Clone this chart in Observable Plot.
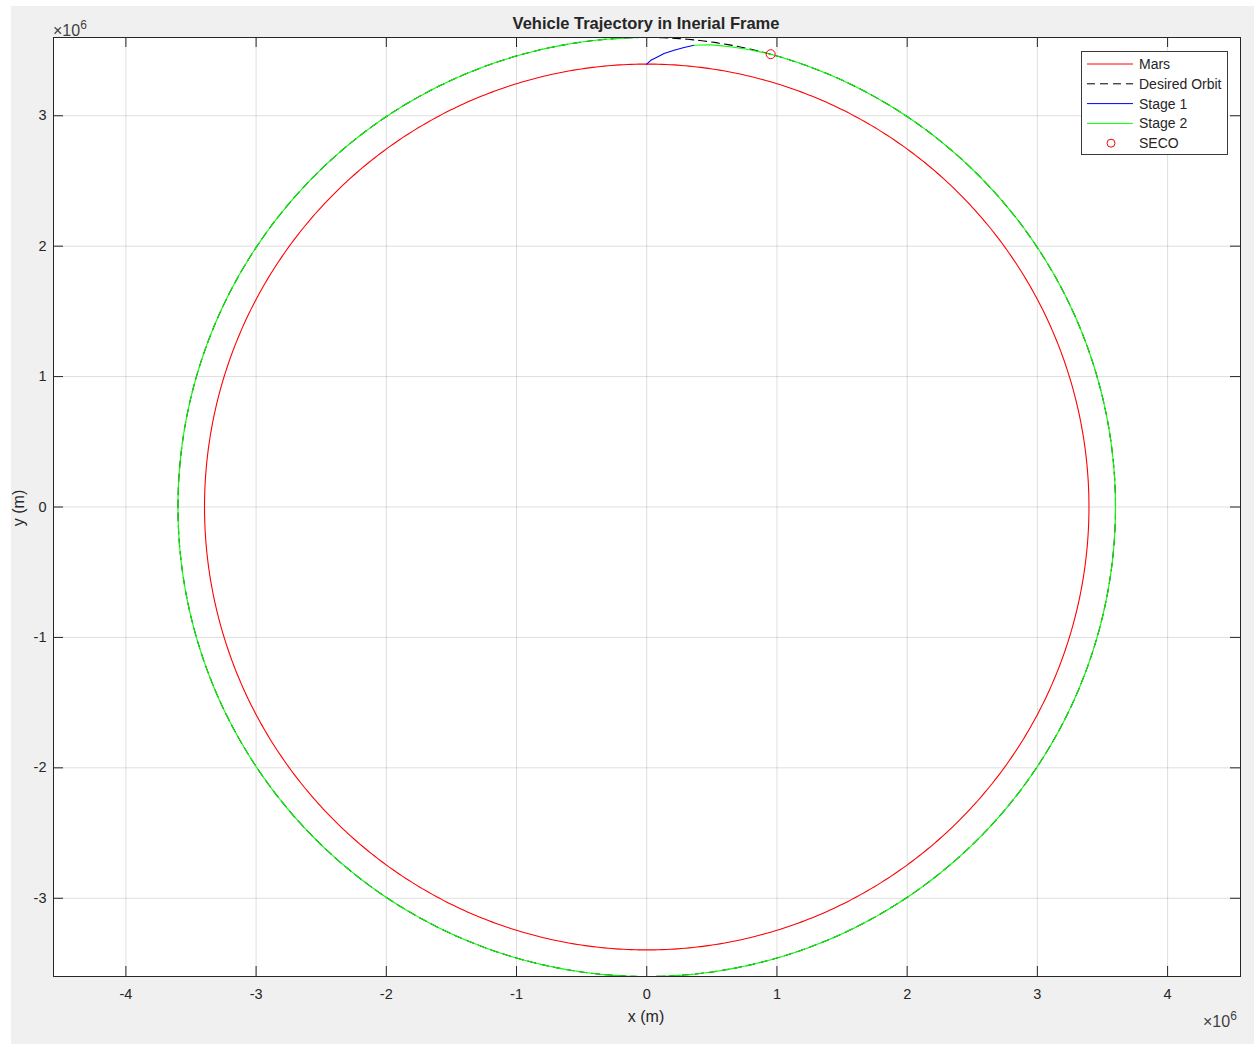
<!DOCTYPE html>
<html><head><meta charset="utf-8">
<script src="https://cdn.jsdelivr.net/npm/d3@7"></script>
<script src="https://cdn.jsdelivr.net/npm/@observablehq/plot@0.6"></script>
<style>
body{margin:0;background:#fff;font-family:"Liberation Sans",Arial,Helvetica,sans-serif;}
#bg{position:absolute;left:11px;top:6px;width:1243px;height:1038px;background:#f0f0f0;}
#chart{position:absolute;left:0;top:0;}
.abs{position:absolute;white-space:nowrap;color:#262626;line-height:1;}
#title{left:646px;top:15px;transform:translateX(-50%);font-weight:bold;font-size:16.5px;}
#xlabel{left:646px;top:1009px;transform:translateX(-50%);font-size:16px;}
#ylabel{left:19px;top:508px;transform:translate(-50%,-50%) rotate(-90deg);font-size:16px;}
.exp{font-size:16px;color:#404040;}
.exp sup{font-size:12px;position:relative;top:-1px;}
#expY{left:53px;top:20px;}
#expX{left:1203px;top:1011px;}
#legend{position:absolute;left:1081px;top:51px;}
</style></head><body>
<div id="bg"></div>
<div id="chart"></div>
<div class="abs" id="title">Vehicle Trajectory in Inerial Frame</div>
<div class="abs" id="xlabel">x (m)</div>
<div class="abs" id="ylabel">y (m)</div>
<div class="abs exp" id="expY">×10<sup>6</sup></div>
<div class="abs exp" id="expX">×10<sup>6</sup></div>
<div id="legend"></div>
<script>
// ---- data (metres) ----
const xTicks = [-4e6, -3e6, -2e6, -1e6, 0, 1e6, 2e6, 3e6, 4e6];
const yTicks = [-3e6, -2e6, -1e6, 0, 1e6, 2e6, 3e6];
const xDomain = [-4.556e6, 4.56e6];
const yDomain = [-3.6e6, 3.6e6];
const marsRadius = 3.3962e6;
const orbitRadius = 3.6e6;
const stage1X = [0, 0.031e6, 0.082e6, 0.133e6, 0.210e6, 0.287e6, 0.363e6];
const stage1Y = [3.3962e6, 3.425e6, 3.451e6, 3.477e6, 3.502e6, 3.523e6, 3.540e6];
const stage2AscentX = [0.363e6, 0.42e6, 0.48e6, 0.56e6, 0.64e6, 0.72e6, 0.80e6, 0.88e6, 0.952e6];
const stage2AscentY = [3.540e6, 3.543e6, 3.544e6, 3.538e6, 3.529e6, 3.518e6, 3.504e6, 3.488e6, 3.472e6];
const secoX = 0.952e6;
const secoY = 3.472e6;
const legendLabels = ["Mars", "Desired Orbit", "Stage 1", "Stage 2", "SECO"];

// ---- geometry from the data ----
// angle measured clockwise from +y (degrees)
function arc(r, a0, a1, step) {
  const pts = [];
  for (let a = a0; a <= a1 + 1e-9; a += step) {
    const t = a * Math.PI / 180;
    pts.push({x: r * Math.sin(t), y: r * Math.cos(t)});
  }
  return pts;
}
const mars = arc(marsRadius, 0, 360, 0.5);
const orbit = arc(orbitRadius, 0, 360, 0.5);
const stage1 = stage1X.map((x, i) => ({x, y: stage1Y[i]}));
const secoAngle = Math.atan2(secoX, secoY) * 180 / Math.PI;
const stage2 = stage2AscentX.map((x, i) => ({x, y: stage2AscentY[i]}))
  .concat(arc(orbitRadius, Math.ceil(secoAngle * 2) / 2, 360, 0.5));
const seco = [{x: secoX, y: secoY}];

const W = 1254, H = 1044, mL = 53, mR = 14, mT = 37, mB = 68;
const plotW = W - mL - mR, plotH = H - mT - mB, tk = 10;
const axisColor = "#262626";
const fmt = d => String(d / 1e6);

const chart = Plot.plot({
  width: W, height: H,
  marginLeft: mL, marginRight: mR, marginTop: mT, marginBottom: mB,
  style: {background: "transparent", fontFamily: '"Liberation Sans", Arial, sans-serif', fontSize: "14.5px", color: axisColor, overflow: "visible"},
  x: {domain: xDomain, label: null},
  y: {domain: yDomain, label: null},
  marks: [
    Plot.frame({fill: "white", stroke: null}),
    Plot.gridX(xTicks, {stroke: axisColor, strokeOpacity: 0.15}),
    Plot.gridY(yTicks, {stroke: axisColor, strokeOpacity: 0.15}),
    Plot.line(mars, {x: "x", y: "y", stroke: "#ff0000", strokeWidth: 1.1}),
    Plot.line(orbit, {x: "x", y: "y", stroke: "#000000", strokeWidth: 1.1, strokeDasharray: "8,5"}),
    Plot.line(stage1, {x: "x", y: "y", stroke: "#0000ff", strokeWidth: 1.1}),
    Plot.line(stage2, {x: "x", y: "y", stroke: "#00ff00", strokeWidth: 1.1}),
    Plot.dot(seco, {x: "x", y: "y", r: 4.5, stroke: "#ff0000", fill: "none", strokeWidth: 1}),
    Plot.tickX(xTicks, {x: d => d, insetTop: plotH - tk, stroke: axisColor}),
    Plot.tickX(xTicks, {x: d => d, insetBottom: plotH - tk, stroke: axisColor}),
    Plot.tickY(yTicks, {y: d => d, insetRight: plotW - tk, stroke: axisColor}),
    Plot.tickY(yTicks, {y: d => d, insetLeft: plotW - tk, stroke: axisColor}),
    Plot.frame({stroke: axisColor, strokeWidth: 1}),
    Plot.axisX(xTicks, {tickSize: 0, tickPadding: 12, tickFormat: fmt, label: null}),
    Plot.axisY(yTicks, {tickSize: 0, tickPadding: 7, tickFormat: fmt, label: null})
  ]
});
document.getElementById("chart").appendChild(chart);

// ---- legend ----
const styles = [
  {type: "line", stroke: "#ff0000"},
  {type: "line", stroke: "#000000", dash: "8,5"},
  {type: "line", stroke: "#0000ff"},
  {type: "line", stroke: "#00ff00"},
  {type: "dot", stroke: "#ff0000"}
];
const lg = d3.select("#legend").append("svg").attr("width", 148).attr("height", 105);
lg.append("rect").attr("x", 0.5).attr("y", 0.5).attr("width", 146).attr("height", 103)
  .attr("fill", "white").attr("stroke", "#3a3a3a");
legendLabels.forEach((lab, i) => {
  const cy = 13 + i * 19.8;
  const s = styles[i];
  if (s.type === "line") {
    lg.append("line").attr("x1", 6).attr("x2", 52).attr("y1", cy).attr("y2", cy)
      .attr("stroke", s.stroke).attr("stroke-width", 1).attr("stroke-dasharray", s.dash || null);
  } else {
    lg.append("circle").attr("cx", 30).attr("cy", cy).attr("r", 4)
      .attr("fill", "none").attr("stroke", s.stroke);
  }
  lg.append("text").attr("x", 58).attr("y", cy).attr("dy", "0.35em")
    .attr("font-family", '"Liberation Sans", Arial, sans-serif').attr("font-size", "14px")
    .attr("fill", "#262626").text(lab);
});
</script>
</body></html>
